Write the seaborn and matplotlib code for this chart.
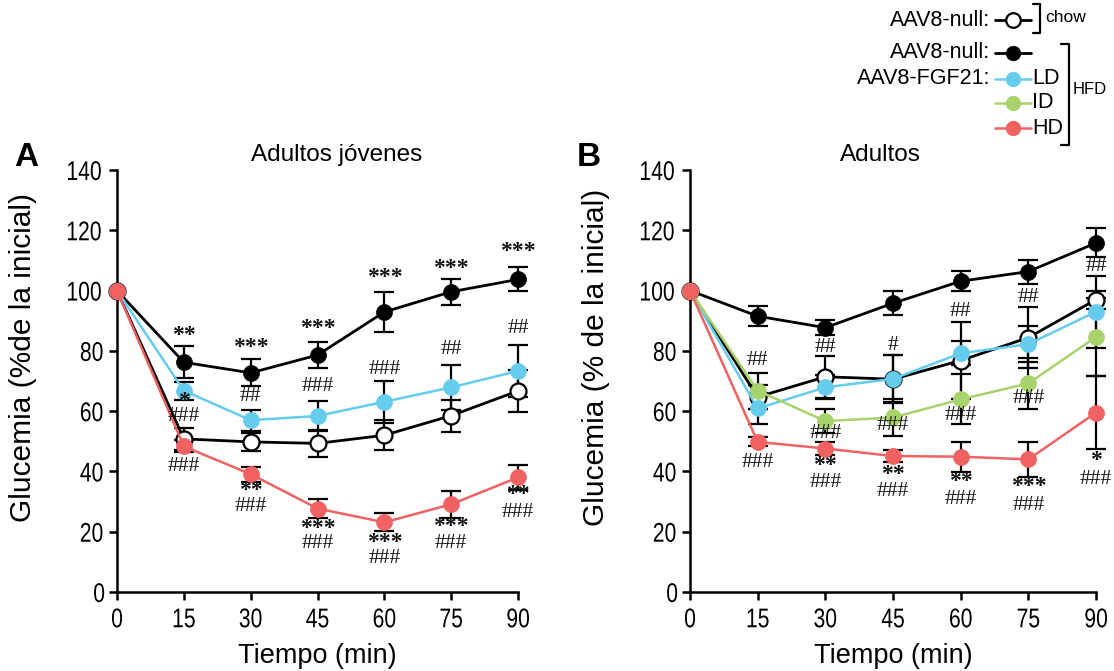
import matplotlib
matplotlib.use("Agg")
import matplotlib.pyplot as plt
from matplotlib.lines import Line2D
from matplotlib import font_manager as fm
from matplotlib.patheffects import AbstractPathEffect
from matplotlib.transforms import Affine2D
import seaborn as sns

# ---------------- data ----------------
time = [0, 15, 30, 45, 60, 75, 90]

# Panel A: young adults
a_null_chow = [100, 50.8, 49.8, 49.3, 52.0, 58.5, 66.7]
a_null_chow_sem = [0, 3.6, 3.0, 4.4, 5.0, 5.3, 7.0]
a_null_hfd = [100, 76.2, 72.7, 78.6, 92.9, 99.6, 103.7]
a_null_hfd_sem = [0, 5.3, 4.5, 4.4, 6.5, 4.3, 4.0]
a_fgf21_ld = [100, 66.8, 57.0, 58.4, 63.1, 67.9, 73.3]
a_fgf21_ld_sem = [0, 3.0, 3.5, 5.0, 7.0, 7.5, 8.5]
a_fgf21_hd = [100, 48.3, 39.1, 27.7, 23.1, 29.1, 38.0]
a_fgf21_hd_sem = [0, 2.0, 2.5, 3.0, 3.0, 4.4, 4.0]

# Panel B: adults
b_null_chow = [100, 64.7, 71.4, 70.6, 76.8, 84.4, 97.0]
b_null_chow_sem = [0, 4.0, 7.0, 8.0, 12.7, 10.0, 3.0]
b_null_hfd = [100, 91.5, 87.7, 95.8, 103.1, 106.3, 115.8]
b_null_hfd_sem = [0, 3.4, 2.5, 4.0, 3.3, 4.0, 4.8]
b_fgf21_ld = [100, 60.9, 67.9, 70.7, 79.2, 82.2, 93.0]
b_fgf21_ld_sem = [0, 5.0, 4.0, 7.8, 4.0, 6.0, 12.0]
b_fgf21_id = [100, 66.8, 56.7, 57.9, 63.9, 69.2, 84.6]
b_fgf21_id_sem = [0, 6.0, 4.0, 6.0, 8.3, 8.5, 13.0]
b_fgf21_hd = [100, 49.8, 47.6, 45.1, 44.9, 44.0, 59.5]
b_fgf21_hd_sem = [0, 1.5, 2.0, 2.0, 5.0, 5.8, 12.0]

# significance marks: (time, height in axis units, label)
marks_a = [
    (15, 85.2, "**"), (15, 63.1, "*"), (15, 58.1, "###"), (15, 41.5, "###"),
    (30, 81.0, "***"), (30, 65.0, "##"), (30, 33.8, "**"), (30, 28.3, "###"),
    (45, 87.4, "***"), (45, 68.1, "###"), (45, 21.1, "***"), (45, 16.1, "###"),
    (60, 104.3, "***"), (60, 73.9, "###"), (60, 16.5, "***"), (60, 11.2, "###"),
    (75, 107.3, "***"), (75, 80.5, "##"), (75, 21.7, "***"), (75, 16.1, "###"),
    (90, 112.8, "***"), (90, 87.4, "##"), (90, 32.2, "**"), (90, 26.3, "###"),
]
marks_b = [
    (15, 76.7, "##"), (15, 42.9, "###"),
    (30, 81.0, "##"), (30, 52.6, "###"), (30, 42.1, "**"), (30, 36.2, "###"),
    (45, 81.7, "#"), (45, 55.1, "###"), (45, 39.1, "**"), (45, 33.3, "###"),
    (60, 92.9, "##"), (60, 58.7, "###"), (60, 36.8, "**"), (60, 30.8, "###"),
    (75, 97.7, "##"), (75, 64.2, "###"), (75, 34.9, "***"), (75, 28.8, "###"),
    (90, 107.9, "##"), (90, 43.5, "*"), (90, 37.4, "###"),
]

yticks = [0, 20, 40, 60, 80, 100, 120, 140]

# ---------------- style ----------------
BLUE = "#66CCEE"
GREEN = "#A8D26C"
RED = "#F06262"

sns.set_style("ticks")
names = {f.name for f in fm.fontManager.ttflist}
SANS = "Liberation Sans" if "Liberation Sans" in names else "DejaVu Sans"
SERIF = "Liberation Serif" if "Liberation Serif" in names else "DejaVu Serif"
plt.rcParams["font.family"] = [SANS, "DejaVu Sans"]
for k in ("text.color", "axes.labelcolor", "xtick.color", "ytick.color", "axes.edgecolor"):
    plt.rcParams[k] = "black"


class Squeeze(AbstractPathEffect):
    """Condense glyphs horizontally (in text direction) about the text centre."""

    def __init__(self, sx=0.8, sy=1.0):
        super().__init__()
        self.sx, self.sy = sx, sy

    def draw_path(self, renderer, gc, tpath, affine, rgbFace=None):
        ext = tpath.get_extents()
        cx = (ext.x0 + ext.x1) / 2
        local = Affine2D().translate(-cx, 0).scale(self.sx, self.sy).translate(cx, 0)
        renderer.draw_path(gc, tpath, local + affine, rgbFace)


NARROW = [Squeeze(0.78)]

W, H = 1114, 671
fig = plt.figure(figsize=(W / 100, H / 100), dpi=100)


def fx(x):
    return x / W


def fy(y):
    return 1 - y / H


def draw_series(ax, vals, sem, line_color, face, lw, z):
    ax.errorbar(time[1:], vals[1:], yerr=sem[1:], fmt="none", ecolor="black",
                elinewidth=1.6, capsize=7, capthick=1.6, zorder=2, clip_on=False)
    edge = "black" if face == "white" else face
    sns.lineplot(x=time, y=vals, ax=ax, color=line_color, linewidth=lw,
                 marker="o", markersize=11.5, markerfacecolor=face,
                 markeredgecolor=edge, markeredgewidth=1.6 if face == "white" else 0.5,
                 errorbar=None, legend=False, zorder=z, clip_on=False)


def style_axes(ax, ylabel):
    ax.set_xlim(0, 90)
    ax.set_ylim(0, 140)
    ax.set_xticks(time)
    ax.set_yticks(yticks)
    sns.despine(ax=ax)
    for s in ("left", "bottom"):
        ax.spines[s].set_linewidth(1.8)
    ax.tick_params(direction="out", length=6, width=1.8, labelsize=19.5)
    ax.tick_params(axis="x", pad=5)
    ax.tick_params(axis="y", pad=1.5)
    for lab in ax.get_xticklabels() + ax.get_yticklabels():
        lab.set_path_effects(NARROW)
    ax.set_xlabel("Tiempo (min)", fontsize=19.5)
    ax.set_ylabel(ylabel, fontsize=21.5)
    ax.xaxis.set_label_coords(0.5, -0.122)


def put_marks(ax, marks):
    for t, yv, lab in marks:
        if "*" in lab:
            ax.text(t, yv, lab, ha="center", va="center", family=SERIF,
                    fontsize=17, fontweight="bold", color="#111111", zorder=6, clip_on=False)
        else:
            ax.text(t, yv, lab, ha="center", va="center", family=SERIF,
                    fontsize=15.5, color="#111111", zorder=6, clip_on=False)


# ---------------- panel A ----------------
axA = fig.add_axes([fx(117), fy(592), (518 - 117) / W, (592 - 170) / H])
draw_series(axA, a_null_hfd, a_null_hfd_sem, "black", "black", 2.0, 3)
draw_series(axA, a_null_chow, a_null_chow_sem, "black", "white", 2.0, 3.1)
draw_series(axA, a_fgf21_ld, a_fgf21_ld_sem, BLUE, BLUE, 1.8, 3.2)
draw_series(axA, a_fgf21_hd, a_fgf21_hd_sem, RED, RED, 1.8, 3.4)
style_axes(axA, "Glucemia (%de la inicial)")
axA.yaxis.set_label_coords(-0.2, 0.555)
put_marks(axA, marks_a)

# ---------------- panel B ----------------
axB = fig.add_axes([fx(690), fy(592), (1096 - 690) / W, (592 - 170) / H])
draw_series(axB, b_null_hfd, b_null_hfd_sem, "black", "black", 2.0, 3)
draw_series(axB, b_null_chow, b_null_chow_sem, "black", "white", 2.0, 3.1)
draw_series(axB, b_fgf21_ld, b_fgf21_ld_sem, BLUE, BLUE, 1.8, 3.2)
draw_series(axB, b_fgf21_id, b_fgf21_id_sem, GREEN, GREEN, 1.8, 3.3)
draw_series(axB, b_fgf21_hd, b_fgf21_hd_sem, RED, RED, 1.8, 3.4)
style_axes(axB, "Glucemia (% de la inicial)")
axB.yaxis.set_label_coords(-0.198, 0.555)
put_marks(axB, marks_b)

# ---------------- titles and panel letters ----------------
fig.text(fx(26), fy(157), "A", ha="center", va="center", fontsize=24, fontweight="bold")
fig.text(fx(589), fy(157), "B", ha="center", va="center", fontsize=24, fontweight="bold")
fig.text(fx(337), fy(155), "Adultos jóvenes", ha="center", va="center", fontsize=17.5)
fig.text(fx(880), fy(155), "Adultos", ha="center", va="center", fontsize=17.5)

# ---------------- group key (top right) ----------------
key = fig.add_axes([0, 0, 1, 1], zorder=10)
key.set_xlim(0, W)
key.set_ylim(H, 0)
key.axis("off")

rows = [
    (20, "AAV8-null:", "black", "white", "", 2.0),
    (53, "AAV8-null:", "black", "black", "", 2.0),
    (79, "AAV8-FGF21:", BLUE, BLUE, "LD", 1.8),
    (103, "", GREEN, GREEN, "ID", 1.8),
    (128, "", RED, RED, "HD", 1.8),
]
for yk, left, lc, face, right, lw in rows:
    if left:
        key.text(990, yk, left, ha="right", va="center", fontsize=15.5)
    key.add_line(Line2D([995, 1031], [yk, yk], color=lc, lw=lw))
    edge = "black" if face == "white" else face
    key.add_line(Line2D([1013], [yk], marker="o", markersize=10.5,
                        markerfacecolor=face, markeredgecolor=edge,
                        markeredgewidth=1.6 if face == "white" else 0.5, lw=0))
    if right:
        key.text(1032, yk, right, ha="left", va="center", fontsize=15.5)

key.add_line(Line2D([1033, 1040, 1040, 1033], [4, 4, 33, 33], color="black", lw=1.6))
key.text(1045, 17, "chow", ha="left", va="center", fontsize=12.5)
key.add_line(Line2D([1061, 1069, 1069, 1061], [44, 44, 145, 145], color="black", lw=1.6))
key.text(1073, 90, "HFD", ha="left", va="center", fontsize=12)

fig.savefig("out.png", dpi=100)
